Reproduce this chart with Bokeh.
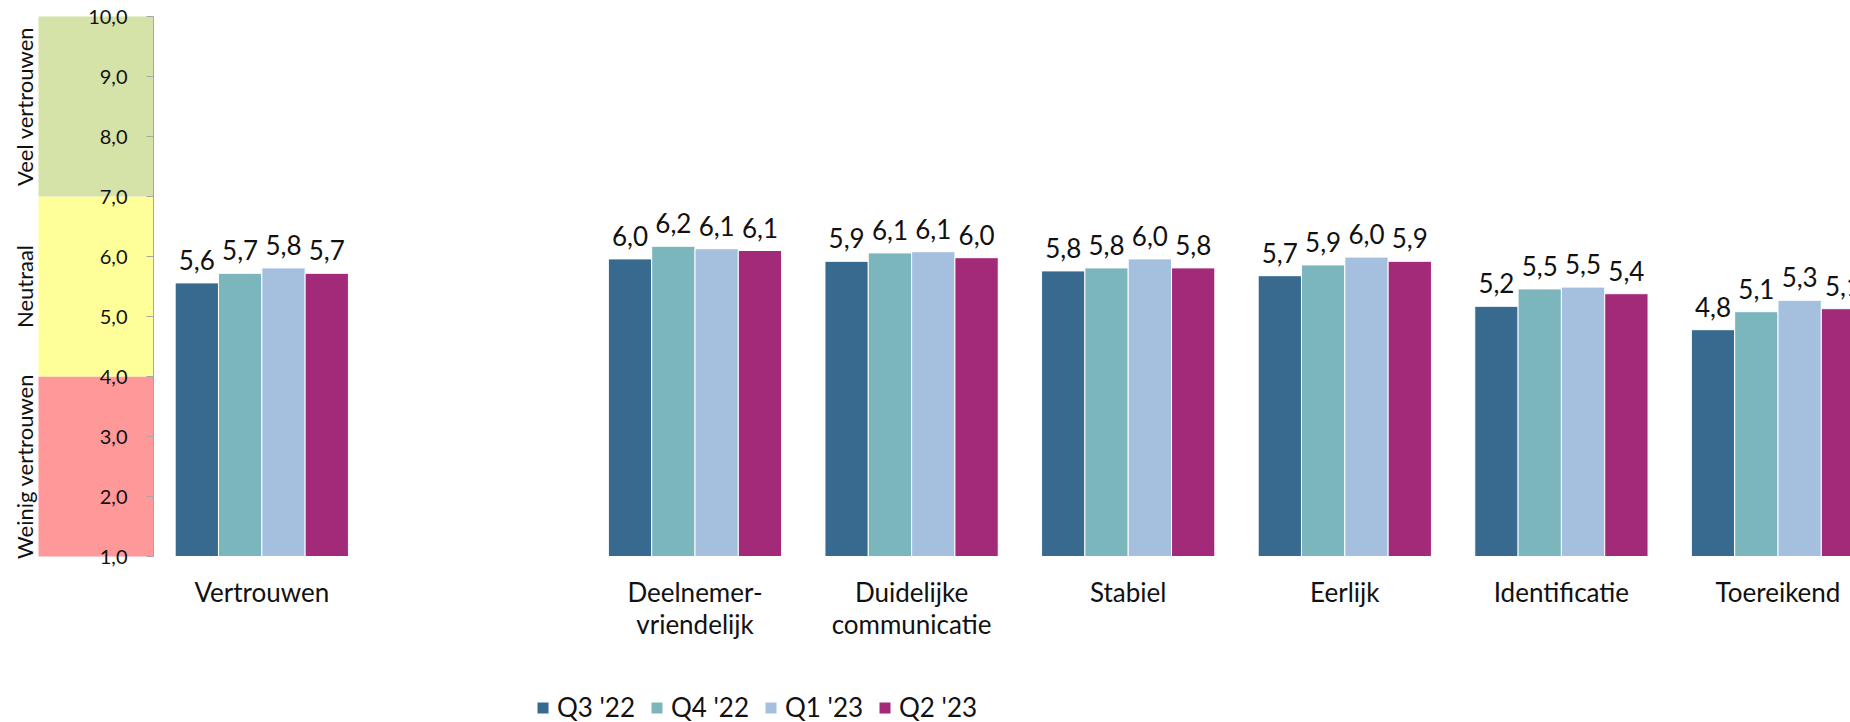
import math
from bokeh.plotting import figure
from bokeh.models import ColumnDataSource, Range1d, FixedTicker, Legend, LegendItem
from bokeh.transform import dodge
from bokeh.core.properties import value
from bokeh.embed import file_html
from bokeh.resources import INLINE

# ---------------- data ----------------
categories = ["Vertrouwen", "Deelnemer-\nvriendelijk", "Duidelijke\ncommunicatie",
              "Stabiel", "Eerlijk", "Identificatie", "Toereikend"]
series_names = ["Q3 '22", "Q4 '22", "Q1 '23", "Q2 '23"]
q3_22 = [5.56, 5.96, 5.92, 5.76, 5.68, 5.17, 4.78]
q4_22 = [5.72, 6.17, 6.06, 5.81, 5.86, 5.46, 5.08]
q1_23 = [5.81, 6.13, 6.08, 5.96, 5.99, 5.49, 5.27]
q2_23 = [5.72, 6.10, 5.98, 5.81, 5.92, 5.38, 5.13]
series_values = [q3_22, q4_22, q1_23, q2_23]

y_ticks = [1, 2, 3, 4, 5, 6, 7, 8, 9, 10]
y_tick_labels = ["1,0", "2,0", "3,0", "4,0", "5,0", "6,0", "7,0", "8,0", "9,0", "10,0"]

band_names = ["Weinig vertrouwen", "Neutraal", "Veel vertrouwen"]
band_low = [1, 4, 7]
band_high = [4, 7, 10]

# ---------------- style / layout ----------------
series_colors = ["#386A8F", "#7CB6BD", "#A5C0DE", "#A22A78"]
band_colors = ["#FF9999", "#FFFF99", "#D5E3A8"]
FONT = "Lato"
W, H = 1850, 722
BAR_W = 0.2
AXIS_X = -0.5            # value axis sits at the left edge of the first category slot
PX_X = 216.6             # pixels per category slot
AXIS_PX = 153            # pixel column of the value axis
PX_Y = 60.0              # pixels per score unit
TOP_PX, BOTTOM_PX = 16, 556   # pixel rows of 10 and 1

x0 = AXIS_X - AXIS_PX / PX_X
x1 = x0 + W / PX_X
y1 = 10 + TOP_PX / PX_Y
y0 = 1 - (H - BOTTOM_PX) / PX_Y
BAND_LEFT = AXIS_X - (AXIS_PX - 38) / PX_X
BAND_LABEL_X = AXIS_X - (AXIS_PX - 24) / PX_X

# category slot positions: one empty slot after the first group
group_x = [0] + [i + 1 for i in range(1, len(categories))]

def fmt(v):
    return f"{v:.1f}".replace(".", ",")

data = dict(x=group_x)
for k, vals in enumerate(series_values):
    data[f"v{k}"] = vals
    data[f"l{k}"] = [fmt(v) for v in vals]
src = ColumnDataSource(data)

p = figure(width=W, height=H,
           x_range=Range1d(x0, x1), y_range=Range1d(y0, y1),
           output_backend="svg", toolbar_location=None,
           min_border_left=0, min_border_right=0, min_border_top=0, min_border_bottom=0)
p.outline_line_color = None
p.xgrid.visible = False
p.ygrid.visible = False

# background bands
p.quad(left=BAND_LEFT, right=AXIS_X, bottom=band_low, top=band_high,
       fill_color=band_colors, line_color=None)
p.text(x=[BAND_LABEL_X] * 3, y=[(a + b) / 2 for a, b in zip(band_low, band_high)],
       text=band_names, angle=math.pi / 2, text_align="center", text_baseline="middle",
       text_font=value(FONT), text_font_size="22px", text_color="#111111")

items = []
for k, name in enumerate(series_names):
    off = (k - 1.5) * BAR_W
    r = p.vbar(x=dodge("x", off, range=p.x_range), top=f"v{k}", bottom=1, width=BAR_W,
               source=src, fill_color=series_colors[k], line_color="white", line_width=1)
    p.text(x=dodge("x", off, range=p.x_range), y=f"v{k}", text=f"l{k}", source=src,
           text_align="center", text_baseline="alphabetic", y_offset=-23,
           text_font=value(FONT), text_font_size="26px", text_color="#111111")
    items.append(LegendItem(label=name, renderers=[r]))

# value axis
yax = p.yaxis[0]
yax.fixed_location = AXIS_X
yax.bounds = (1, 10)
yax.ticker = FixedTicker(ticks=y_ticks)
yax.major_label_overrides = {t: s for t, s in zip(y_ticks, y_tick_labels)}
yax.axis_line_color = "#A6A6A6"
yax.major_tick_line_color = "#A6A6A6"
yax.major_tick_out = 7
yax.major_tick_in = 0
yax.minor_tick_line_color = None
yax.major_label_text_font = FONT
yax.major_label_text_font_size = "20px"
yax.major_label_text_color = "#111111"
yax.major_label_standoff = 19

# category axis
xax = p.xaxis[0]
xax.fixed_location = 1
xax.ticker = FixedTicker(ticks=group_x)
xax.major_label_overrides = {x: c for x, c in zip(group_x, categories)}
xax.axis_line_color = None
xax.major_tick_line_color = None
xax.minor_tick_line_color = None
xax.major_label_text_font = FONT
xax.major_label_text_font_size = "26px"
xax.major_label_text_color = "#111111"
xax.major_label_standoff = 13
xax.major_label_text_line_height = 1.0

legend = Legend(items=items, location=(535, -1), orientation="horizontal",
                glyph_width=15, glyph_height=15, label_standoff=7, spacing=14,
                padding=0, margin=0, border_line_color=None, background_fill_alpha=0,
                label_text_font=FONT, label_text_font_size="26px", label_text_color="#111111")
p.add_layout(legend)

open("out.html", "w").write(file_html(p, INLINE))
